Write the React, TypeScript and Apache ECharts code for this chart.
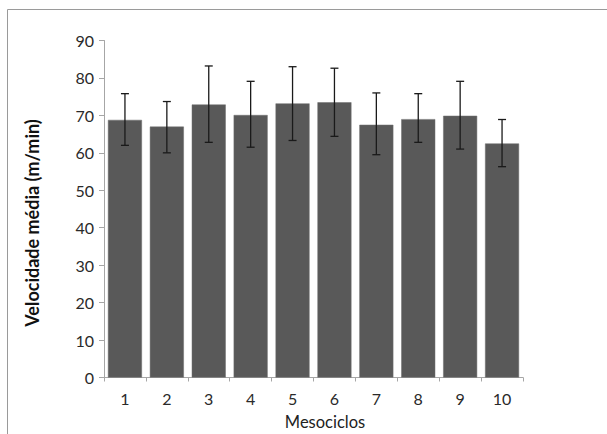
import React, { useEffect, useRef } from "react";
import * as echarts from "echarts";

const categories = ["1", "2", "3", "4", "5", "6", "7", "8", "9", "10"];
const means = [68.8, 67.0, 72.9, 70.1, 73.2, 73.5, 67.5, 69.0, 69.9, 62.5];
const errLow = [62.0, 60.0, 62.8, 61.5, 63.3, 64.4, 59.5, 62.8, 61.0, 56.3];
const errHigh = [75.8, 73.7, 83.2, 79.1, 83.0, 82.6, 76.0, 75.8, 79.1, 68.9];
const yTicks = { min: 0, max: 90, interval: 10 };
const xTitle = "Mesociclos";
const yTitle = "Velocidade média (m/min)";

const FONT = "Lato, 'Open Sans', sans-serif";

export default function App() {
  const ref = useRef<HTMLDivElement>(null);
  useEffect(() => {
    if (!ref.current) return;
    const chart = echarts.init(ref.current, null, { renderer: "svg" });
    const errData = categories.map((_, i) => [i, errLow[i], errHigh[i]]);
    chart.setOption({
      animation: false,
      backgroundColor: "#ffffff",
      textStyle: { fontFamily: FONT },
      grid: { left: 104, right: 84, top: 40.5, bottom: 56.5, containLabel: false },
      xAxis: {
        type: "category",
        data: categories,
        axisLine: { show: true, lineStyle: { color: "#a6a6a6", width: 1 } },
        axisTick: { show: true, alignWithLabel: false, length: 4, lineStyle: { color: "#a6a6a6" } },
        axisLabel: { fontSize: 16, color: "#2a2a2a", margin: 13, fontFamily: FONT },
      },
      yAxis: {
        type: "value",
        min: yTicks.min,
        max: yTicks.max,
        interval: yTicks.interval,
        axisLine: { show: true, lineStyle: { color: "#a6a6a6", width: 1 } },
        axisTick: { show: true, length: 5, lineStyle: { color: "#a6a6a6" } },
        splitLine: { show: false },
        axisLabel: { fontSize: 16, color: "#2a2a2a", margin: 10, fontFamily: FONT },
      },
      series: [
        {
          type: "bar",
          data: means,
          barWidth: 34,
          itemStyle: { color: "#595959", borderColor: "#6e6e6e", borderWidth: 0.5 },
        },
        {
          type: "custom",
          data: errData,
          z: 10,
          renderItem: (params: any, api: any) => {
            const i = api.value(0);
            const lo = api.coord([i, api.value(1)]);
            const hi = api.coord([i, api.value(2)]);
            const hw = 4;
            const style = { stroke: "#1a1a1a", lineWidth: 1.3 };
            return {
              type: "group",
              children: [
                { type: "line", shape: { x1: lo[0], y1: lo[1], x2: hi[0], y2: hi[1] }, style },
                { type: "line", shape: { x1: hi[0] - hw, y1: hi[1], x2: hi[0] + hw, y2: hi[1] }, style },
                { type: "line", shape: { x1: lo[0] - hw, y1: lo[1], x2: lo[0] + hw, y2: lo[1] }, style },
              ],
            };
          },
        },
      ],
      graphic: [
        {
          type: "rect",
          shape: { x: 7.5, y: 9.5, width: 700, height: 500 },
          style: { fill: "none", stroke: "#9a9a9a", lineWidth: 1 },
          silent: true,
        },
        {
          type: "text",
          x: 325,
          y: 422,
          style: {
            text: xTitle,
            fontSize: 16.5,
            fill: "#222",
            fontFamily: FONT,
            align: "center",
            verticalAlign: "middle",
          },
        },
        {
          type: "text",
          x: 32,
          y: 223,
          rotation: Math.PI / 2,
          style: {
            text: yTitle,
            fontSize: 18,
            fontWeight: "bold",
            fill: "#111",
            fontFamily: FONT,
            align: "center",
            verticalAlign: "middle",
          },
        },
      ],
    });
    return () => chart.dispose();
  }, []);
  return <div ref={ref} style={{ width: 607, height: 434, position: "absolute", left: 0, top: 0 }} />;
}
